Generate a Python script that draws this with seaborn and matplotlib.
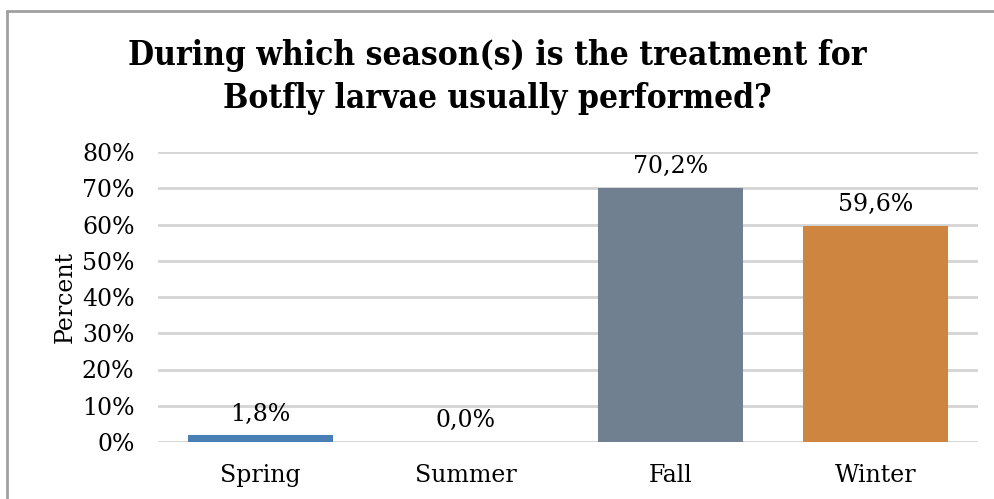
import matplotlib
matplotlib.use("Agg")
import matplotlib.pyplot as plt
import seaborn as sns
import pandas as pd
from matplotlib.lines import Line2D

seasons = ["Spring", "Summer", "Fall", "Winter"]
percent = [1.8, 0.0, 70.2, 59.6]
bar_colors = ["#4a7fb5", "#4a7fb5", "#708090", "#cd853f"]
y_ticks = [0, 10, 20, 30, 40, 50, 60, 70, 80]
title = "During which season(s) is the treatment for\nBotfly larvae usually performed?"

df = pd.DataFrame({"season": seasons, "value": [p / 100 for p in percent]})

sns.set_theme(style="white")
plt.rcParams["font.family"] = ["DejaVu Serif"]
for k in ["text.color", "axes.labelcolor", "xtick.color", "ytick.color"]:
    plt.rcParams[k] = "black"

fig = plt.figure(figsize=(9.95, 4.99), dpi=100)
ax = fig.add_axes([158 / 995, 1 - 442 / 499, 820 / 995, 290 / 499])

sns.barplot(data=df, x="season", y="value", hue="season", palette=bar_colors,
            width=0.71, ax=ax, legend=False, saturation=1, linewidth=0)

ax.set_ylim(0, 0.8)
ax.set_yticks([t / 100 for t in y_ticks])
ax.set_yticklabels([f"{t}%" for t in y_ticks], fontsize=17)
ax.set_xlim(-0.5, 3.5)
ax.grid(axis="y", color="#d4d4d4", linewidth=2)
ax.set_axisbelow(True)
for s in ax.spines.values():
    s.set_visible(False)
ax.tick_params(axis="y", length=0, pad=17)
ax.tick_params(axis="x", length=0, pad=16, labelsize=17)
ax.set_xlabel("")
ax.set_ylabel("Percent", fontsize=17, labelpad=4)

for i, p in enumerate(percent):
    ax.annotate(f"{p:.1f}%".replace(".", ","), (i, p / 100), xytext=(0, 7),
                textcoords="offset points", ha="center", va="bottom",
                fontsize=17, color="black")

fig.text(0.5, 1 - 77 / 499, title, ha="center", va="center", fontsize=24,
         fontweight="bold", fontstretch="condensed", linespacing=1.38,
         color="black")

fig.add_artist(Line2D([7.5 / 995, 7.5 / 995], [0, 1 - 10.5 / 499],
                      transform=fig.transFigure, color="#a0a0a0", linewidth=2))
fig.add_artist(Line2D([7.5 / 995, 1], [1 - 10.5 / 499, 1 - 10.5 / 499],
                      transform=fig.transFigure, color="#a0a0a0", linewidth=2))

fig.savefig("out.png", dpi=100)
